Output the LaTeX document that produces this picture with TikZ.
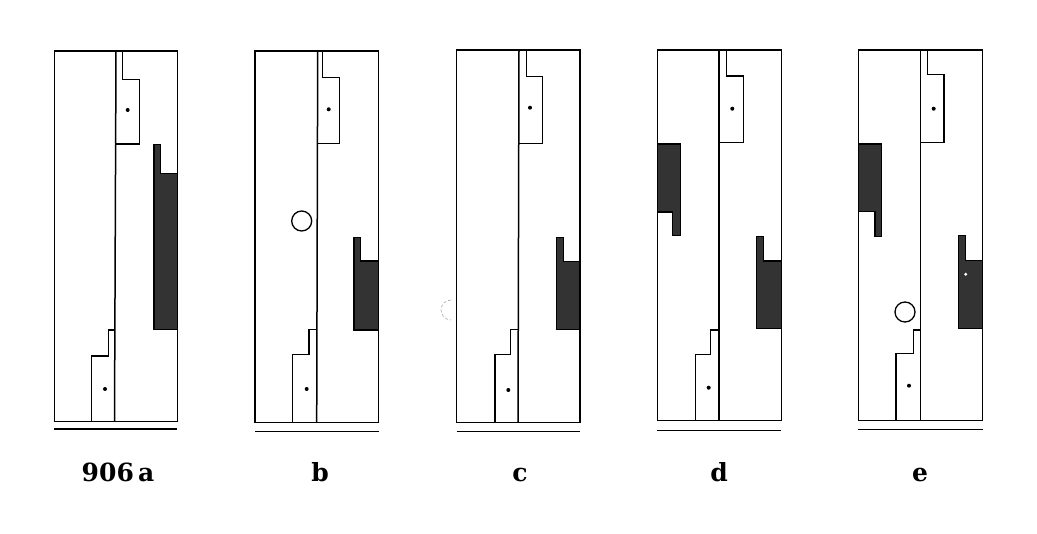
\documentclass[tikz,border=0pt]{standalone}
\usepackage{fontspec}
\setmainfont{DejaVu Serif}
\tikzset{
  wall/.style={line width=1.5pt, line join=miter},
  dark/.style={wall, fill=black!80},
  hole/.style={line width=1.3pt},
  caption/.style={anchor=base, font=\bfseries\fontsize{25}{25}\selectfont}
}
\begin{document}
\begin{tikzpicture}[x=1pt, y=-1pt]
      \useasboundingbox (0,0) rectangle (1037,534);
      % panel a
      \draw[wall] (54.3,51) rectangle (177.3,421.7);
      \draw[wall] (116,51) -- (114.5,421.7);
      \draw[wall] (122.7,51) -- (122.7,79.3) -- (139.3,79.3) -- (139.3,144) -- (116,144);
      \draw[wall] (114.5,330) -- (108.3,330) -- (108.3,356) -- (91.7,356) -- (91.7,421.7);
      \draw[dark] (154,144.3) -- (160.7,144.3) -- (160.7,173.3) -- (177.3,173.3) -- (177.3,329.3) -- (154,329.3) -- cycle;
      \fill (127.7,110) circle (2pt);
      \fill (105,389) circle (2pt);
      \draw[wall] (54.3,429) -- (177.3,429);
      \node[caption] (a) at (118,481.7) {906\,a};
      % panel b
      \draw[wall] (255,51) rectangle (378.7,422.3);
      \draw[wall] (317.7,51) -- (316.7,422.3);
      \draw[wall] (322.7,51) -- (322.7,77.7) -- (339.3,77.7) -- (339.3,143.7) -- (317.7,143.7);
      \draw[wall] (316.7,329.3) -- (309,329.3) -- (309,354.3) -- (292.3,354.3) -- (292.3,422.3);
      \draw[dark] (354,237.3) -- (360.7,237.3) -- (360.7,261) -- (378.7,261) -- (378.7,330) -- (354,330) -- cycle;
      \draw[hole] (301.7,221) circle (10pt);
      \fill (328.7,109.3) circle (2pt);
      \fill (306.7,389) circle (2pt);
      \draw[wall] (255,431.7) -- (378.7,431.7);
      \node[caption] (b) at (320,481.7) {b};
      % panel c
      \draw[wall] (456.7,50) rectangle (580,422.3);
      \draw[wall] (519,50) -- (518,422.3);
      \draw[wall] (526.7,50) -- (526.7,76.7) -- (542.7,76.7) -- (542.7,143.3) -- (519,143.3);
      \draw[wall] (518,329.3) -- (510.7,329.3) -- (510.7,354.3) -- (495,354.3) -- (495,422.3);
      \draw[dark] (556.7,237.3) -- (563.3,237.3) -- (563.3,261.7) -- (580,261.7) -- (580,329.3) -- (556.7,329.3) -- cycle;
      \draw[black!35, densely dashed, line width=0.6pt] (451,300) arc[start angle=90, end angle=270, radius=10pt];
      \fill (530,107.7) circle (2pt);
      \fill (508.3,390) circle (2pt);
      \draw[wall] (456.7,431.7) -- (580,431.7);
      \node[caption] (c) at (520,481.7) {c};
      % panel d
      \draw[wall] (657.3,50) rectangle (781.3,420.7);
      \draw[wall] (719,50) -- (719,420.7);
      \draw[wall] (726.7,50) -- (726.7,76) -- (743.3,76) -- (743.3,142.7) -- (719,142.7);
      \draw[wall] (719,330) -- (710.7,330) -- (710.7,354.3) -- (695.7,354.3) -- (695.7,420.7);
      \draw[dark] (657.3,144) -- (680.7,144) -- (680.7,235.3) -- (672.7,235.3) -- (672.7,212) -- (657.3,212) -- cycle;
      \draw[dark] (756.7,236.7) -- (763.3,236.7) -- (763.3,261) -- (781.3,261) -- (781.3,328.7) -- (756.7,328.7) -- cycle;
      \fill (732.3,108.7) circle (2pt);
      \fill (708.7,387.7) circle (2pt);
      \draw[wall] (657.3,430.7) -- (781.3,430.7);
      \node[caption] (d) at (719,481.7) {d};
      % panel e
      \draw[wall] (858.3,50) rectangle (982.7,420.7);
      \draw[wall] (920.7,50) -- (920.7,420.7);
      \draw[wall] (927.7,50) -- (927.7,74.7) -- (944,74.7) -- (944,142.7) -- (920.7,142.7);
      \draw[wall] (920.7,330) -- (913.3,330) -- (913.3,353.3) -- (896,353.3) -- (896,420.7);
      \draw[dark] (858.3,144) -- (881.3,144) -- (881.3,236.7) -- (875,236.7) -- (875,211.7) -- (858.3,211.7) -- cycle;
      \draw[dark] (958.3,235.3) -- (965.3,235.3) -- (965.3,260.7) -- (982.7,260.7) -- (982.7,328.7) -- (958.3,328.7) -- cycle;
      \draw[hole] (905,312) circle (10pt);
      \fill (933.7,108.7) circle (2pt);
      \fill[white] (965.7,274.3) circle (1.6pt);
      \fill (909,385.7) circle (2pt);
      \draw[wall] (858.3,429.3) -- (982.7,429.3);
      \node[caption] (e) at (920,481.7) {e};
\end{tikzpicture}
\end{document}
